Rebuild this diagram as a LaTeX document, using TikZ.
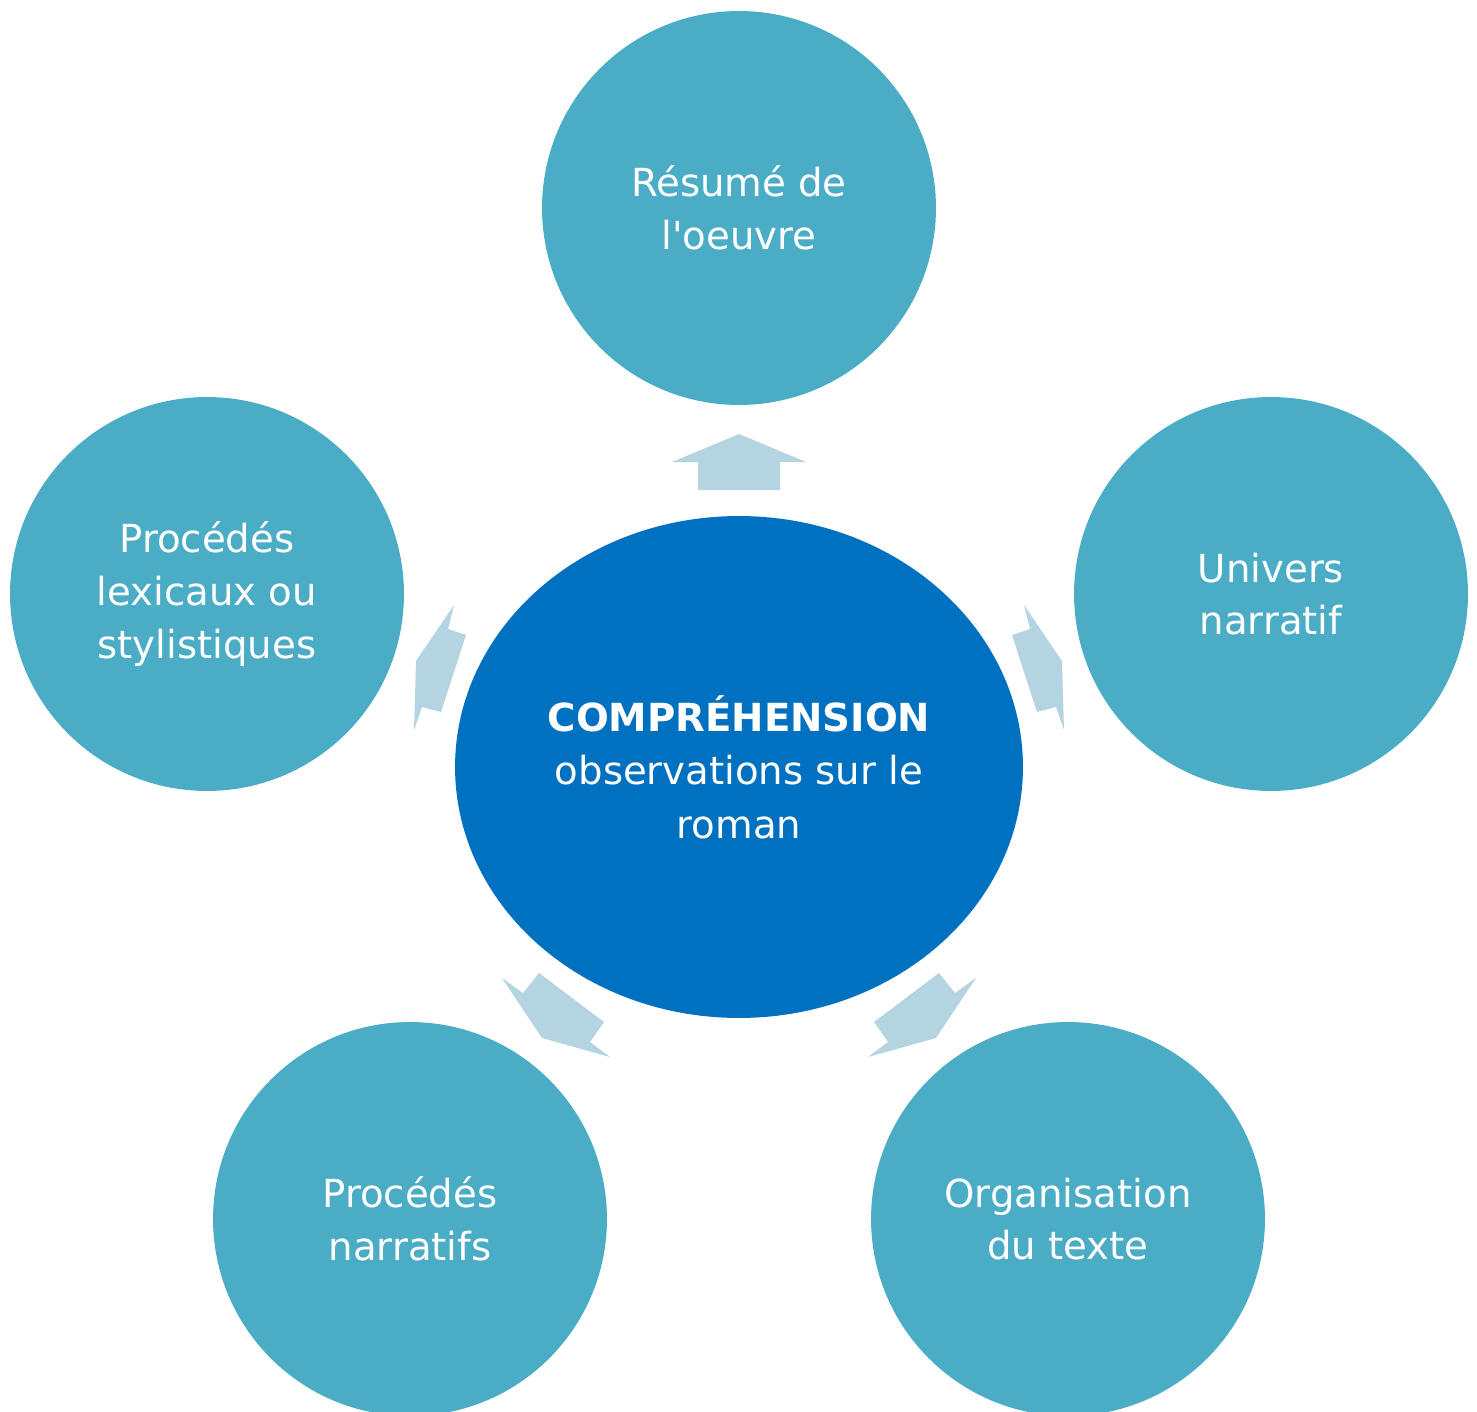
\documentclass[tikz,border=0pt]{standalone}
\usepackage{fontspec}
\setmainfont{DejaVu Sans}
\usetikzlibrary{shapes.geometric}
\definecolor{outer}{HTML}{4BACC6}
\definecolor{inner}{HTML}{0070C0}
\definecolor{arrowc}{HTML}{B3D4E0}
\tikzset{
  sat/.style={circle, fill=outer, draw=none, minimum size=7.88cm, inner sep=0pt,
    text=white, align=center, font=\fontsize{22}{30}\selectfont},
  hub/.style={ellipse, fill=inner, draw=none, minimum width=11.36cm, minimum height=10.04cm,
    inner sep=0pt, text=white, align=center, font=\fontsize{22}{30.5}\selectfont},
  blockarrow/.style={fill=arrowc, draw=none}
}
\begin{document}
\begin{tikzpicture}[x=0.02cm,y=-0.02cm]
\useasboundingbox (0,0) rectangle (1477,1412);
\clip (0,0) rectangle (1477,1412);
% arrows
\fill[blockarrow] (739,434) -- (806,462) -- (780,462) -- (780,490) -- (698,490) -- (698,462) -- (672,462) -- cycle;
\fill[blockarrow] (416,661) -- (454,605) -- (448,629) -- (466,635) -- (441,712) -- (422,707) -- (414,730) -- cycle;
\fill[blockarrow] (1062,661) -- (1024,605) -- (1030,629) -- (1012,635) -- (1037,712) -- (1056,707) -- (1064,730) -- cycle;
\fill[blockarrow] (542,1038) -- (502,978) -- (523,993) -- (539,973) -- (604,1022) -- (590,1042) -- (610,1057) -- cycle;
\fill[blockarrow] (936,1038) -- (976,978) -- (955,993) -- (939,973) -- (874,1022) -- (888,1042) -- (868,1057) -- cycle;
% nodes
\node[hub] (hub) at (739,767) {{\bfseries COMPRÉHENSION}\\observations sur le\\roman};
\node[sat] (top) at (739,208) {Résumé de\\l\textquotesingle oeuvre};
\node[sat] (right) at (1271,594) {Univers\\narratif};
\node[sat] (left) at (207,594) {Procédés\\lexicaux ou\\stylistiques};
\node[sat] (bl) at (410,1219) {Procédés\\narratifs};
\node[sat] (br) at (1068,1219) {Organisation\\du texte};
\end{tikzpicture}
\end{document}
